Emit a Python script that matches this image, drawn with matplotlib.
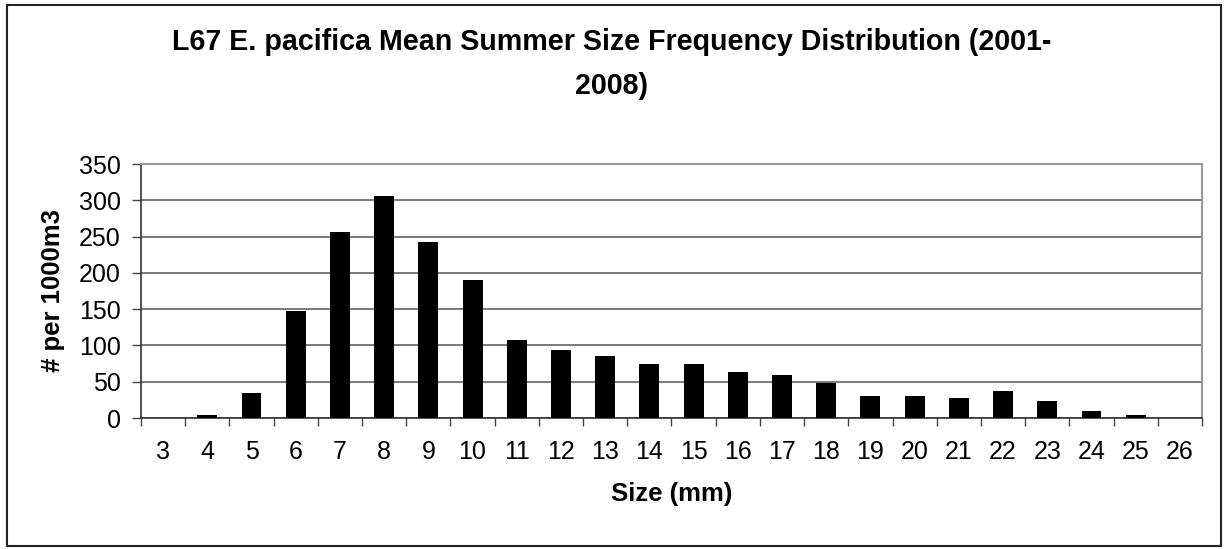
import matplotlib.pyplot as plt
import numpy as np
from matplotlib.patches import Rectangle

plt.rcParams['font.family'] = ['Liberation Sans', 'DejaVu Sans']

# size classes (mm) and mean abundance per 1000 m3
sizes = list(range(3, 27))
counts = [0, 4, 34, 147, 256, 306, 243, 190, 108, 94, 86, 75,
          75, 64, 59, 48, 31, 31, 28, 37, 23, 9, 4, 0]

W, H = 1224, 549
fig = plt.figure(figsize=(W / 100, H / 100), dpi=100)
ax = fig.add_axes([141 / W, 1 - 418 / H, 1061 / W, 254 / H])

ax.bar(sizes, counts, width=0.45, color="black", zorder=3)

ax.set_xlim(2.5, 26.5)
ax.set_ylim(0, 350)
ax.set_yticks(np.arange(0, 351, 50))
ax.set_xticks(sizes)
ax.set_xticks(np.arange(2.5, 27, 1), minor=True)
ax.tick_params(axis="x", which="major", length=0, pad=16, labelsize=18)
ax.tick_params(axis="x", which="minor", length=6, width=1, color="#444444", direction="out")
ax.tick_params(axis="y", length=6.5, width=1, color="#444444", labelsize=18, pad=8)
ax.grid(axis="y", color="#707070", linewidth=1.3, zorder=0)
for s in ax.spines.values():
    s.set_color("#999999")
    s.set_linewidth(1.5)
ax.spines["left"].set_color("#333333")
ax.spines["bottom"].set_color("#333333")
ax.spines["left"].set_linewidth(1.2)
ax.spines["bottom"].set_linewidth(1.2)

ax.set_ylabel("# per 1000m3", fontsize=18.5, fontweight="bold", labelpad=10)
ax.set_xlabel("Size (mm)", fontsize=18.5, fontweight="bold", labelpad=13)

fig.text(0.5, 1 - 64 / H,
         "L67 E. pacifica Mean Summer Size Frequency Distribution (2001-\n2008)",
         ha="center", va="center", fontsize=20.6, fontweight="bold", linespacing=1.72)

fig.patches.append(Rectangle((7 / W, 1 - 546 / H), 1214 / W, 541 / H,
                             transform=fig.transFigure, fill=False,
                             edgecolor="#222222", linewidth=1.5))

fig.savefig("out.png", dpi=100)
